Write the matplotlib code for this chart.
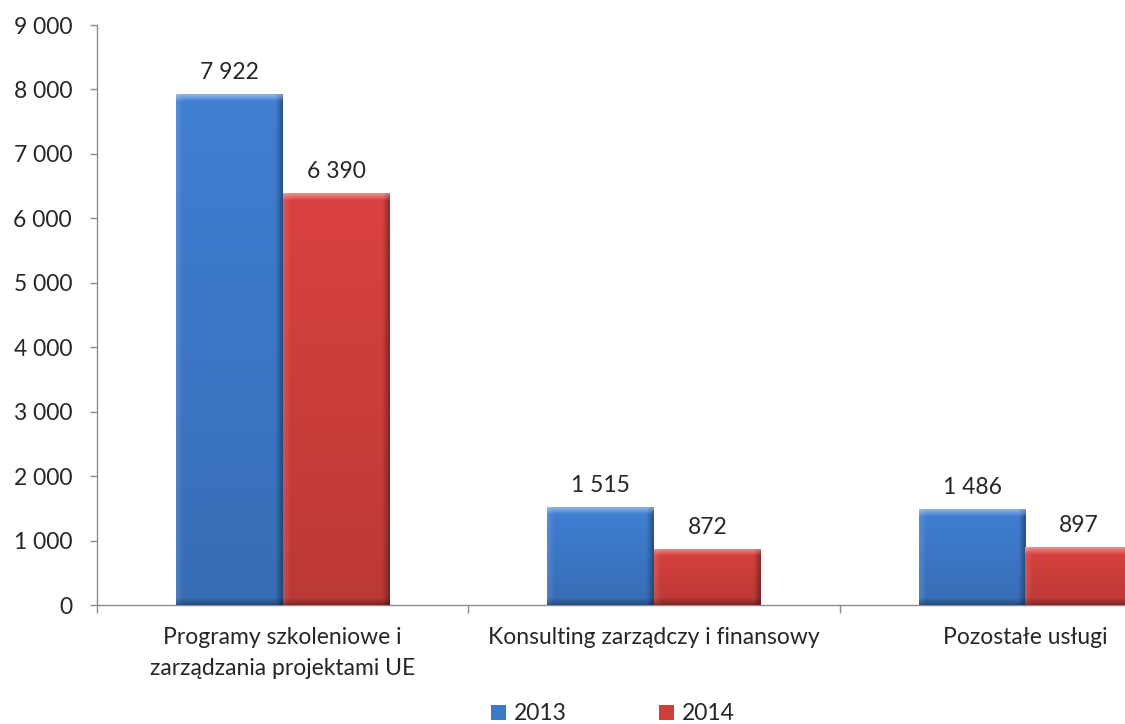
import numpy as np
import matplotlib
matplotlib.use("Agg")
import matplotlib.pyplot as plt
from matplotlib.colors import to_rgb
from matplotlib.patches import Patch

categories = ["Programy szkoleniowe i\nzarządzania projektami UE",
              "Konsulting zarządczy i finansowy",
              "Pozostałe usługi"]
series_names = ["2013", "2014"]
values_2013 = [7922, 1515, 1486]
values_2014 = [6390, 872, 897]
yticks = [0, 1000, 2000, 3000, 4000, 5000, 6000, 7000, 8000, 9000]

colors = ["#3d79c9", "#cf3f3c"]

plt.rcParams['font.family'] = ['Lato', 'DejaVu Sans']
FS = 16.5
TXT = "#262626"


def fmt(v):
    return f"{v:,}".replace(",", " ")


fig = plt.figure(figsize=(11.25, 7.24), dpi=100)
ax = fig.add_axes([97 / 1125, 119 / 724, (1211 - 97) / 1125, 580 / 724])

x = np.arange(len(categories))
w = 0.287
bars = []
for i, (vals, col) in enumerate(zip([values_2013, values_2014], colors)):
    b = ax.bar(x + (i - 0.5) * w, vals, w, color=col, zorder=2, linewidth=0)
    bars.append(b)

ax.set_xlim(-0.5, 2.5)
ax.set_ylim(0, 9000)
fig.canvas.draw()


def bevel_image(col, wpx, hpx, bev=7.0):
    c = np.array(to_rgb(col))
    H, W = max(int(round(hpx)), 2), max(int(round(wpx)), 2)
    yy = np.linspace(0, 1, H)[:, None]
    shade = 1.05 - 0.15 * yy
    img = np.ones((H, W, 3)) * c * shade[:, :, None]
    r = np.arange(H)[:, None] * np.ones((1, W))
    cc = np.ones((H, 1)) * np.arange(W)[None, :]
    d_top = np.clip(1 - r / bev, 0, 1)
    d_left = np.clip(1 - cc / bev, 0, 1)
    d_right = np.clip(1 - (W - 1 - cc) / bev, 0, 1)
    d_bot = np.clip(1 - (H - 1 - r) / bev, 0, 1)
    white = np.ones(3)
    img = img * (1 - 0.12 * d_left[:, :, None]) + 0.12 * d_left[:, :, None] * white
    img = img * (1 - 0.35 * d_right[:, :, None])
    img = img * (1 - 0.30 * d_bot[:, :, None])
    img = img * (1 - 0.40 * d_top[:, :, None]) + 0.40 * d_top[:, :, None] * white
    return np.clip(img, 0, 1)


trans = ax.transData
for b, col in zip(bars, colors):
    for rect in b:
        x0, y0 = rect.get_x(), rect.get_y()
        x1, y1 = x0 + rect.get_width(), y0 + rect.get_height()
        p0 = trans.transform((x0, y0))
        p1 = trans.transform((x1, y1))
        img = bevel_image(col, p1[0] - p0[0], p1[1] - p0[1])
        im = ax.imshow(img, extent=(x0, x1, y0, y1), aspect='auto',
                       interpolation='bilinear', zorder=3, origin='upper')
        im.set_clip_path(rect)
        ax.annotate(fmt(rect.get_height()), (rect.get_x() + rect.get_width() / 2, y1),
                    xytext=(0, 11), textcoords='offset points',
                    ha='center', va='baseline', fontsize=FS, color=TXT)

ax.set_xlim(-0.5, 2.5)
ax.set_ylim(0, 9000)
ax.set_aspect('auto')

for s in ['top', 'right']:
    ax.spines[s].set_visible(False)
for s in ['left', 'bottom']:
    ax.spines[s].set_color('#8c8c8c')
    ax.spines[s].set_linewidth(1)

ax.set_yticks(yticks)
ax.set_yticklabels([fmt(v) for v in yticks])
ax.tick_params(axis='y', length=5, width=1, color='#8c8c8c', pad=13,
               labelsize=FS, labelcolor=TXT)

ax.set_xticks([-0.5, 0.5, 1.5, 2.5])
ax.set_xticklabels([])
ax.tick_params(axis='x', which='major', length=6, width=1, color='#8c8c8c')
ax.set_xticks(x, minor=True)
ax.set_xticklabels(categories, minor=True, fontsize=FS, color=TXT, linespacing=1.55)
ax.tick_params(axis='x', which='minor', length=0, pad=16)

handles = [Patch(facecolor=c, edgecolor='none') for c in colors]
fig.legend(handles, series_names, loc='center', bbox_to_anchor=(613 / 1125, 10 / 724),
           ncol=2, frameon=False, fontsize=FS, handlelength=0.66, handleheight=0.66,
           handletextpad=0.35, columnspacing=4.0, labelcolor=TXT)

fig.savefig("out.png", dpi=100)
